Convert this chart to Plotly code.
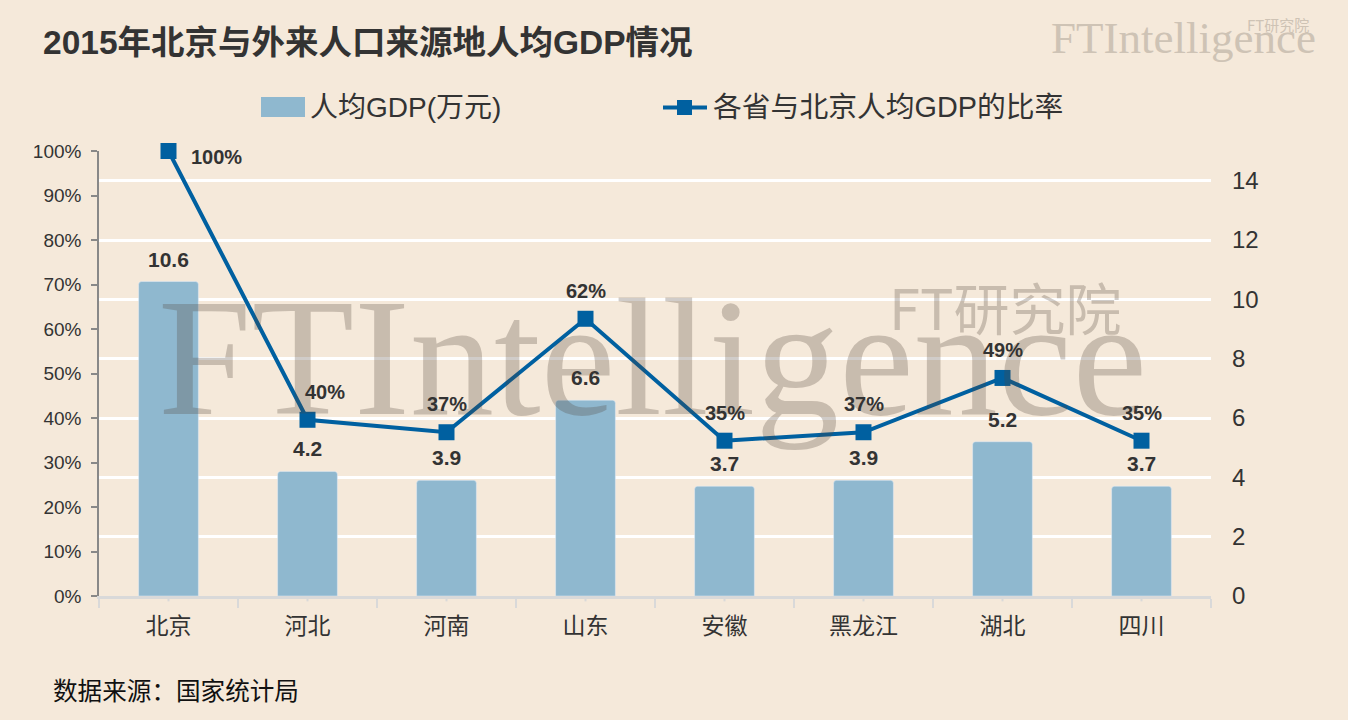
import plotly.graph_objects as go

# ---- data ----
categories = ["北京", "河北", "河南", "山东", "安徽", "黑龙江", "湖北", "四川"]
gdp_per_capita = [10.6, 4.2, 3.9, 6.6, 3.7, 3.9, 5.2, 3.7]          # 万元
ratio_to_beijing = [1.00, 0.396, 0.368, 0.623, 0.349, 0.368, 0.49, 0.349]
right_ticks = [0, 2, 4, 6, 8, 10, 12, 14]

title_text = "2015年北京与外来人口来源地人均GDP情况"
bar_name = "人均GDP(万元)"
line_name = "各省与北京人均GDP的比率"
source_text = "数据来源：国家统计局"

# ---- styles ----
BG = "#F5E9DA"
BAR = "#8FB8CF"
LINE = "#0060A0"
TXT = "#333333"
FONT = "Liberation Sans, Noto Sans CJK SC, sans-serif"
WM = "rgba(80,65,55,0.27)"

# plot area in pixels
L, R, T, B = 99, 1211, 151, 596
W, H = 1348, 720


def px(x):
    return (x - L) / (R - L)


def py(y):
    return (B - y) / (B - T)


fig = go.Figure()

fig.add_trace(go.Bar(
    x=categories, y=gdp_per_capita, name=bar_name,
    marker=dict(color=BAR, cornerradius=3),
    width=0.43,
    yaxis="y",
))

fig.add_trace(go.Scatter(
    x=categories, y=ratio_to_beijing, name=line_name,
    mode="lines+markers",
    line=dict(color=LINE, width=4),
    marker=dict(symbol="square", size=16, color=LINE),
    cliponaxis=False,
    yaxis="y2",
))

annotations = []
# watermark
annotations.append(dict(
    text="FTIntelligence", xref="paper", yref="paper",
    x=px(652), y=py(357), xanchor="center", yanchor="middle",
    showarrow=False,
    font=dict(family="Liberation Serif, Times New Roman, serif", size=168, color=WM),
))
annotations.append(dict(
    text="FT研究院", xref="paper", yref="paper",
    x=px(1005), y=py(305), xanchor="center", yanchor="middle",
    showarrow=False,
    font=dict(family="Noto Sans CJK SC, sans-serif", size=56, color=WM),
))
# logo top-right
annotations.append(dict(
    text="FTIntelligence", xref="paper", yref="paper",
    x=px(1183), y=py(38), xanchor="center", yanchor="middle",
    showarrow=False,
    font=dict(family="Liberation Serif, Times New Roman, serif", size=45, color="#CEC3B5"),
))
annotations.append(dict(
    text="FT研究院", xref="paper", yref="paper",
    x=px(1278), y=py(24), xanchor="center", yanchor="middle",
    showarrow=False,
    font=dict(family="Noto Sans CJK SC, sans-serif", size=15, color="#CEC3B5"),
))

# bar value labels
for c, v in zip(categories, gdp_per_capita):
    annotations.append(dict(
        text=f"{v:.1f}", x=c, y=v, xref="x", yref="y",
        xanchor="center", yanchor="bottom", yshift=9, showarrow=False,
        font=dict(family=FONT, size=21, color=TXT, weight="bold"),
    ))

# ratio labels
for i, (c, v) in enumerate(zip(categories, ratio_to_beijing)):
    if i == 0:
        pos = dict(xanchor="left", yanchor="middle", xshift=20, yshift=-6)
    elif i == 1:
        pos = dict(xanchor="center", yanchor="bottom", xshift=17, yshift=15)
    else:
        pos = dict(xanchor="center", yanchor="bottom", xshift=0, yshift=15)
    annotations.append(dict(
        text=f"{v:.0%}", x=c, y=v, xref="x", yref="y2", showarrow=False,
        font=dict(family=FONT, size=20, color=TXT, weight="bold"), **pos,
    ))

# legend labels
annotations.append(dict(
    text=bar_name, xref="paper", yref="paper",
    x=px(308), y=py(107), xanchor="left", yanchor="middle",
    showarrow=False, font=dict(family=FONT, size=28, color=TXT),
))
annotations.append(dict(
    text=line_name, xref="paper", yref="paper",
    x=px(711), y=py(107), xanchor="left", yanchor="middle",
    showarrow=False, font=dict(family=FONT, size=28.8, color=TXT),
))
# source
annotations.append(dict(
    text=source_text, xref="paper", yref="paper",
    x=px(51), y=py(691), xanchor="left", yanchor="middle",
    showarrow=False, font=dict(family=FONT, size=24.6, color="#111111"),
))

shapes = [
    # legend bar swatch
    dict(type="rect", xref="paper", yref="paper",
         x0=px(261), x1=px(305), y0=py(117), y1=py(97),
         fillcolor=BAR, line=dict(width=0), layer="above"),
    # legend line + marker
    dict(type="line", xref="paper", yref="paper",
         x0=px(663), x1=px(707), y0=py(107.5), y1=py(107.5),
         line=dict(color=LINE, width=4), layer="above"),
    dict(type="rect", xref="paper", yref="paper",
         x0=px(677), x1=px(692), y0=py(115), y1=py(100),
         fillcolor=LINE, line=dict(width=0), layer="above"),
]
# small centre ticks on category axis
for c in categories:
    shapes.append(dict(type="line", xref="x", yref="paper", x0=c, x1=c,
                       y0=0, y1=-0.012, line=dict(color="#D9D9D9", width=2),
                       layer="above"))

fig.update_layout(
    width=W, height=H,
    paper_bgcolor=BG, plot_bgcolor=BG,
    margin=dict(l=L, r=W - R, t=T, b=H - B),
    showlegend=False,
    font=dict(family=FONT, color=TXT),
    title=dict(text=title_text, x=43 / W, xanchor="left", y=1 - 42 / H, yanchor="middle",
               font=dict(family=FONT, size=33.5, color=TXT, weight="bold")),
    xaxis=dict(
        type="category", categoryorder="array", categoryarray=categories,
        showline=True, linecolor="#D9D9D9", linewidth=2.5,
        ticks="outside", tickson="boundaries", ticklen=9, tickcolor="#D9D9D9", tickwidth=2,
        tickfont=dict(size=23, color=TXT), ticklabelstandoff=8,
        showgrid=False, fixedrange=True,
    ),
    yaxis=dict(
        side="right", range=[0, 15], tickvals=right_ticks,
        showgrid=True, gridcolor="#FFFFFF", gridwidth=2.5,
        zeroline=False, showline=False, ticks="",
        tickfont=dict(size=24, color=TXT), ticklabelstandoff=20,
    ),
    yaxis2=dict(
        overlaying="y", side="left", range=[0, 1], dtick=0.1, tickformat=".0%",
        showgrid=False, zeroline=False,
        showline=True, linecolor="#888888", linewidth=1.5,
        ticks="outside", ticklen=6, tickcolor="#888888", tickwidth=1.5,
        tickfont=dict(size=19, color=TXT), ticklabelstandoff=6,
    ),
    annotations=annotations,
    shapes=shapes,
)

fig.write_html(
    "out.html",
    config={"displayModeBar": False},
    post_script="document.body.style.margin='0';document.body.style.overflow='hidden';",
)
